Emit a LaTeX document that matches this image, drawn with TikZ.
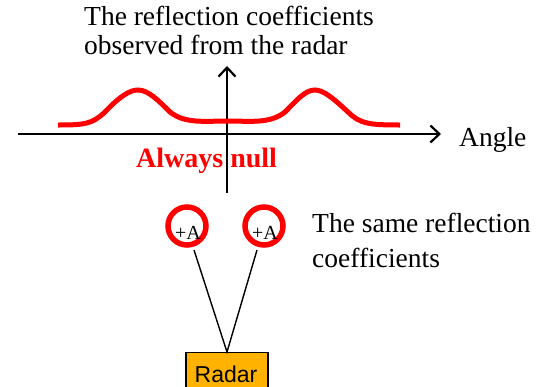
\documentclass[tikz,border=0pt]{standalone}
\usepackage{fontspec}
\setmainfont{Liberation Serif}
\setsansfont{Liberation Sans}
\usetikzlibrary{arrows.meta}
\definecolor{radarorange}{HTML}{FFB300}
\begin{document}
\begin{tikzpicture}[x=1pt, y=-1pt, >={Straight Barb[length=9pt, width=17pt, line width=2.2pt]},
    axis/.style={line width=2.6pt},
    curve/.style={red, line width=5pt},
    target/.style={circle, draw=red, line width=5.5pt, minimum size=38pt, inner sep=0pt},
    label/.style={font=\fontsize{27.5}{29.5}\selectfont, align=left, anchor=base west, inner sep=0pt}]
  % page frame
  \useasboundingbox (0,0) rectangle (543,386);
  % axes of the observed reflection coefficients
  \coordinate (xstart) at (18,134);
  \coordinate (xend) at (441,134);
  \coordinate (ybottom) at (227,193);
  \coordinate (ytop) at (227,66);
  \draw[axis, ->] (xstart) -- (xend);
  \draw[axis, ->] (ybottom) -- (ytop);
  % response: two bumps, null in the middle
  \draw[curve, line cap=butt] (58,125) .. controls (85,125) and (92,124) .. (105,112)
    .. controls (120,96) and (130,90) .. (138,90)
    .. controls (148,90) and (158,100) .. (170,112)
    .. controls (185,124) and (205,121) .. (228,121)
    .. controls (250,121) and (270,124) .. (285,112)
    .. controls (297,100) and (305,90) .. (315,90)
    .. controls (324,90) and (335,100) .. (348,112)
    .. controls (360,124) and (370,125) .. (400,125);
  % texts (base anchor sits on the last line)
  \node[label] (title) at (84,54.5) {The reflection coefficients\\observed from the radar};
  \node[label] (angle) at (459,146) {Angle};
  \node[red, font=\bfseries\fontsize{28}{30}\selectfont, anchor=base west, inner sep=0pt]
    (null) at (136,167) {Always null};
  % two targets
  \node[target] (c1) at (187,226) {};
  \node[target] (c2) at (264,226) {};
  \node[font=\fontsize{20}{22}\selectfont, anchor=base, inner sep=0pt] (a1) at (188,239) {+A};
  \node[font=\fontsize{20}{22}\selectfont, anchor=base, inner sep=0pt] (a2) at (265,239) {+A};
  \node[label, font=\fontsize{27.5}{35}\selectfont] (same) at (312,267) {The same reflection\\coefficients};
  % radar and its lines of sight
  \node[draw, fill=radarorange, line width=1.3pt, minimum width=82pt, minimum height=40pt,
    inner sep=0pt, anchor=north] (radar) at (227,352) {};
  \node[font=\sffamily\fontsize{23}{26}\selectfont, anchor=base, inner sep=0pt]
    (radartext) at (226,382) {Radar};
  \coordinate (s1) at (194,250);
  \coordinate (s2) at (257,250);
  \draw[line width=1.4pt] (s1) -- (radar.north) -- (s2);
\end{tikzpicture}
\end{document}
